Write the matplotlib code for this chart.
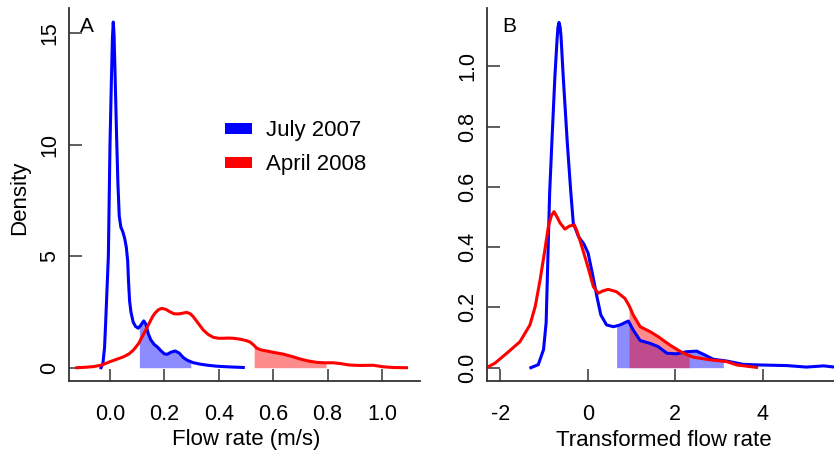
import numpy as np
import matplotlib
matplotlib.use("Agg")
import matplotlib.pyplot as plt
from matplotlib.patches import Rectangle

plt.rcParams['font.family'] = ['Liberation Sans', 'DejaVu Sans']
plt.rcParams['axes.unicode_minus'] = False

# panel A: flow rate (m/s)
july_a_x = [-0.033, -0.026, -0.020, -0.016, -0.011, -0.006, -0.003, 0.000, 0.005, 0.009, 0.012,
            0.015, 0.019, 0.024, 0.029, 0.034, 0.040, 0.047, 0.054, 0.060, 0.065, 0.068, 0.072,
            0.077, 0.085, 0.094, 0.104, 0.113, 0.124, 0.132, 0.140, 0.150, 0.162, 0.175, 0.188,
            0.200, 0.210, 0.225, 0.240, 0.255, 0.270, 0.285, 0.305, 0.331, 0.360, 0.390, 0.417,
            0.450, 0.490]
july_a_y = [0.0, 0.2, 0.9, 2.0, 3.5, 5.0, 7.5, 10.0, 12.8, 14.8, 15.5,
            14.9, 13.0, 10.5, 8.3, 6.8, 6.3, 6.1, 5.8, 5.4, 4.8, 3.9, 3.0,
            2.5, 2.05, 1.85, 1.77, 1.9, 2.1, 1.95, 1.55, 1.25, 1.05, 0.92, 0.75,
            0.62, 0.6, 0.7, 0.75, 0.65, 0.45, 0.33, 0.23, 0.16, 0.11, 0.07, 0.05,
            0.03, 0.01]
april_a_x = [-0.122, -0.09, -0.06, -0.03, 0.0, 0.025, 0.05, 0.07, 0.086, 0.105, 0.122, 0.135,
             0.147, 0.157, 0.165, 0.178, 0.19, 0.205, 0.22, 0.235, 0.25, 0.265, 0.282, 0.295,
             0.306, 0.325, 0.343, 0.36, 0.38, 0.40, 0.417, 0.435, 0.453, 0.478, 0.50, 0.515,
             0.528, 0.539, 0.555, 0.576, 0.605, 0.637, 0.67, 0.699, 0.73, 0.76, 0.79, 0.821,
             0.85, 0.88, 0.92, 0.968, 1.005, 1.04, 1.09]
april_a_y = [0.0, 0.02, 0.05, 0.12, 0.27, 0.38, 0.49, 0.62, 0.79, 1.08, 1.47, 1.78,
             2.06, 2.30, 2.44, 2.60, 2.66, 2.62, 2.51, 2.42, 2.41, 2.44, 2.48, 2.42,
             2.29, 1.98, 1.69, 1.50, 1.36, 1.32, 1.32, 1.33, 1.32, 1.28, 1.22, 1.15,
             1.02, 0.88, 0.80, 0.75, 0.68, 0.61, 0.50, 0.39, 0.30, 0.24, 0.22, 0.22,
             0.18, 0.12, 0.10, 0.11, 0.04, 0.01, 0.0]
july_a_band = (0.108, 0.297)
april_a_band = (0.53, 0.794)

# panel B: transformed flow rate
july_b_x = [-1.30, -1.13, -1.01, -0.95, -0.90, -0.87, -0.82, -0.75, -0.70, -0.68, -0.656, -0.63,
            -0.61, -0.56, -0.466, -0.39, -0.33, -0.21, -0.085, 0.01, 0.11, 0.21, 0.30, 0.43,
            0.59, 0.74, 0.93, 1.04, 1.20, 1.42, 1.61, 1.81, 2.03, 2.26, 2.49, 2.68, 2.87, 3.18,
            3.56, 3.94, 4.55, 5.0, 5.39, 5.64]
july_b_y = [0.0, 0.01, 0.06, 0.15, 0.42, 0.58, 0.745, 0.967, 1.09, 1.13, 1.146, 1.13,
            1.10, 0.967, 0.745, 0.59, 0.48, 0.435, 0.41, 0.38, 0.31, 0.236, 0.175, 0.142,
            0.136, 0.142, 0.155, 0.125, 0.09, 0.081, 0.07, 0.048, 0.046, 0.053, 0.055, 0.042, 0.028, 0.022,
            0.011, 0.009, 0.007, 0.002, 0.006, 0.002]
april_b_x = [-2.31, -2.12, -1.85, -1.55, -1.32, -1.20, -1.09, -0.98, -0.90, -0.83, -0.77, -0.70,
             -0.63, -0.52, -0.42, -0.31, -0.25, -0.18, -0.02, 0.13, 0.24, 0.35, 0.47, 0.66,
             0.85, 0.95, 1.04, 1.20, 1.42, 1.61, 1.88, 2.15, 2.41, 2.80, 3.18, 3.41, 3.86]
april_b_y = [0.0, 0.015, 0.048, 0.086, 0.142, 0.203, 0.29, 0.39, 0.468, 0.505, 0.518, 0.50,
             0.48, 0.46, 0.47, 0.474, 0.455, 0.424, 0.347, 0.269, 0.247, 0.255, 0.26, 0.252,
             0.23, 0.205, 0.175, 0.136, 0.12, 0.103, 0.075, 0.051, 0.035, 0.026, 0.02, 0.009, 0.001]
july_b_band = (0.66, 3.10)
april_b_band = (0.944, 2.32)

labels = ['July 2007', 'April 2008']
colors = ['#0000ff', '#ff0000']

W, H = 834, 450
fig = plt.figure(figsize=(W / 100, H / 100), dpi=100)


def fx(px):
    return px / W


def fy(py):
    return 1 - py / H


def shade(ax, x, y, band, color):
    xs = np.linspace(band[0], band[1], 200)
    ys = np.interp(xs, x, y)
    ax.fill_between(xs, 0, ys, color=color, alpha=0.45, lw=0)


def style(ax):
    for s in ['top', 'right']:
        ax.spines[s].set_visible(False)
    for s in ['left', 'bottom']:
        ax.spines[s].set_color('#333333')
        ax.spines[s].set_linewidth(1.3)
    ax.tick_params(direction='in', length=9, width=1.1, color='#333333', labelsize=15.5)
    ax.tick_params(axis='x', pad=16.5)
    ax.tick_params(axis='y', pad=6.5, labelrotation=90)
    for t in ax.get_yticklabels():
        t.set_va('center')


axA = fig.add_axes([fx(69), fy(381), fx(420 - 69), (381 - 8) / H])
shade(axA, july_a_x, july_a_y, july_a_band, colors[0])
axA.plot(july_a_x, july_a_y, color=colors[0], lw=2.2)
shade(axA, april_a_x, april_a_y, april_a_band, colors[1])
axA.plot(april_a_x, april_a_y, color=colors[1], lw=2.2)
axA.set_xlim(-0.1507, 1.1397)
axA.set_ylim(-0.596, 16.13)
axA.set_xticks([0.0, 0.2, 0.4, 0.6, 0.8, 1.0])
axA.set_xticklabels(['0.0', '0.2', '0.4', '0.6', '0.8', '1.0'])
axA.set_yticks([0, 5, 10, 15])
style(axA)

axB = fig.add_axes([fx(487), fy(381), fx(834 - 487), (381 - 8) / H])
shade(axB, july_b_x, july_b_y, july_b_band, colors[0])
axB.plot(july_b_x, july_b_y, color=colors[0], lw=2.2)
shade(axB, april_b_x, april_b_y, april_b_band, colors[1])
axB.plot(april_b_x, april_b_y, color=colors[1], lw=2.2)
axB.set_xlim(-2.302, 5.63)
axB.set_ylim(-0.0442, 1.194)
axB.set_xticks([-2, 0, 2, 4])
axB.set_yticks([0.0, 0.2, 0.4, 0.6, 0.8, 1.0])
axB.set_yticklabels(['0.0', '0.2', '0.4', '0.6', '0.8', '1.0'])
style(axB)

# axis titles and panel letters
fig.text(fx(19.5), fy(198), 'Density', rotation=90, ha='center', va='center', fontsize=16)
fig.text(fx(245.8), fy(445.5), 'Flow rate (m/s)', ha='center', va='baseline', fontsize=16)
fig.text(fx(663.7), fy(445.5), 'Transformed flow rate', ha='center', va='baseline', fontsize=16)
fig.text(fx(80), fy(32), 'A', ha='left', va='baseline', fontsize=15)
fig.text(fx(502.5), fy(32), 'B', ha='left', va='baseline', fontsize=15)

# legend
for i, (lab, c) in enumerate(zip(labels, colors)):
    yc = 128.5 + 34 * i
    fig.add_artist(Rectangle((fx(225), fy(yc + 5.3)), fx(27), 10.7 / H,
                             transform=fig.transFigure, color=c, lw=0))
    fig.text(fx(266), fy(yc + 7.5), lab, ha='left', va='baseline', fontsize=16)

fig.savefig('out.png', dpi=100)
